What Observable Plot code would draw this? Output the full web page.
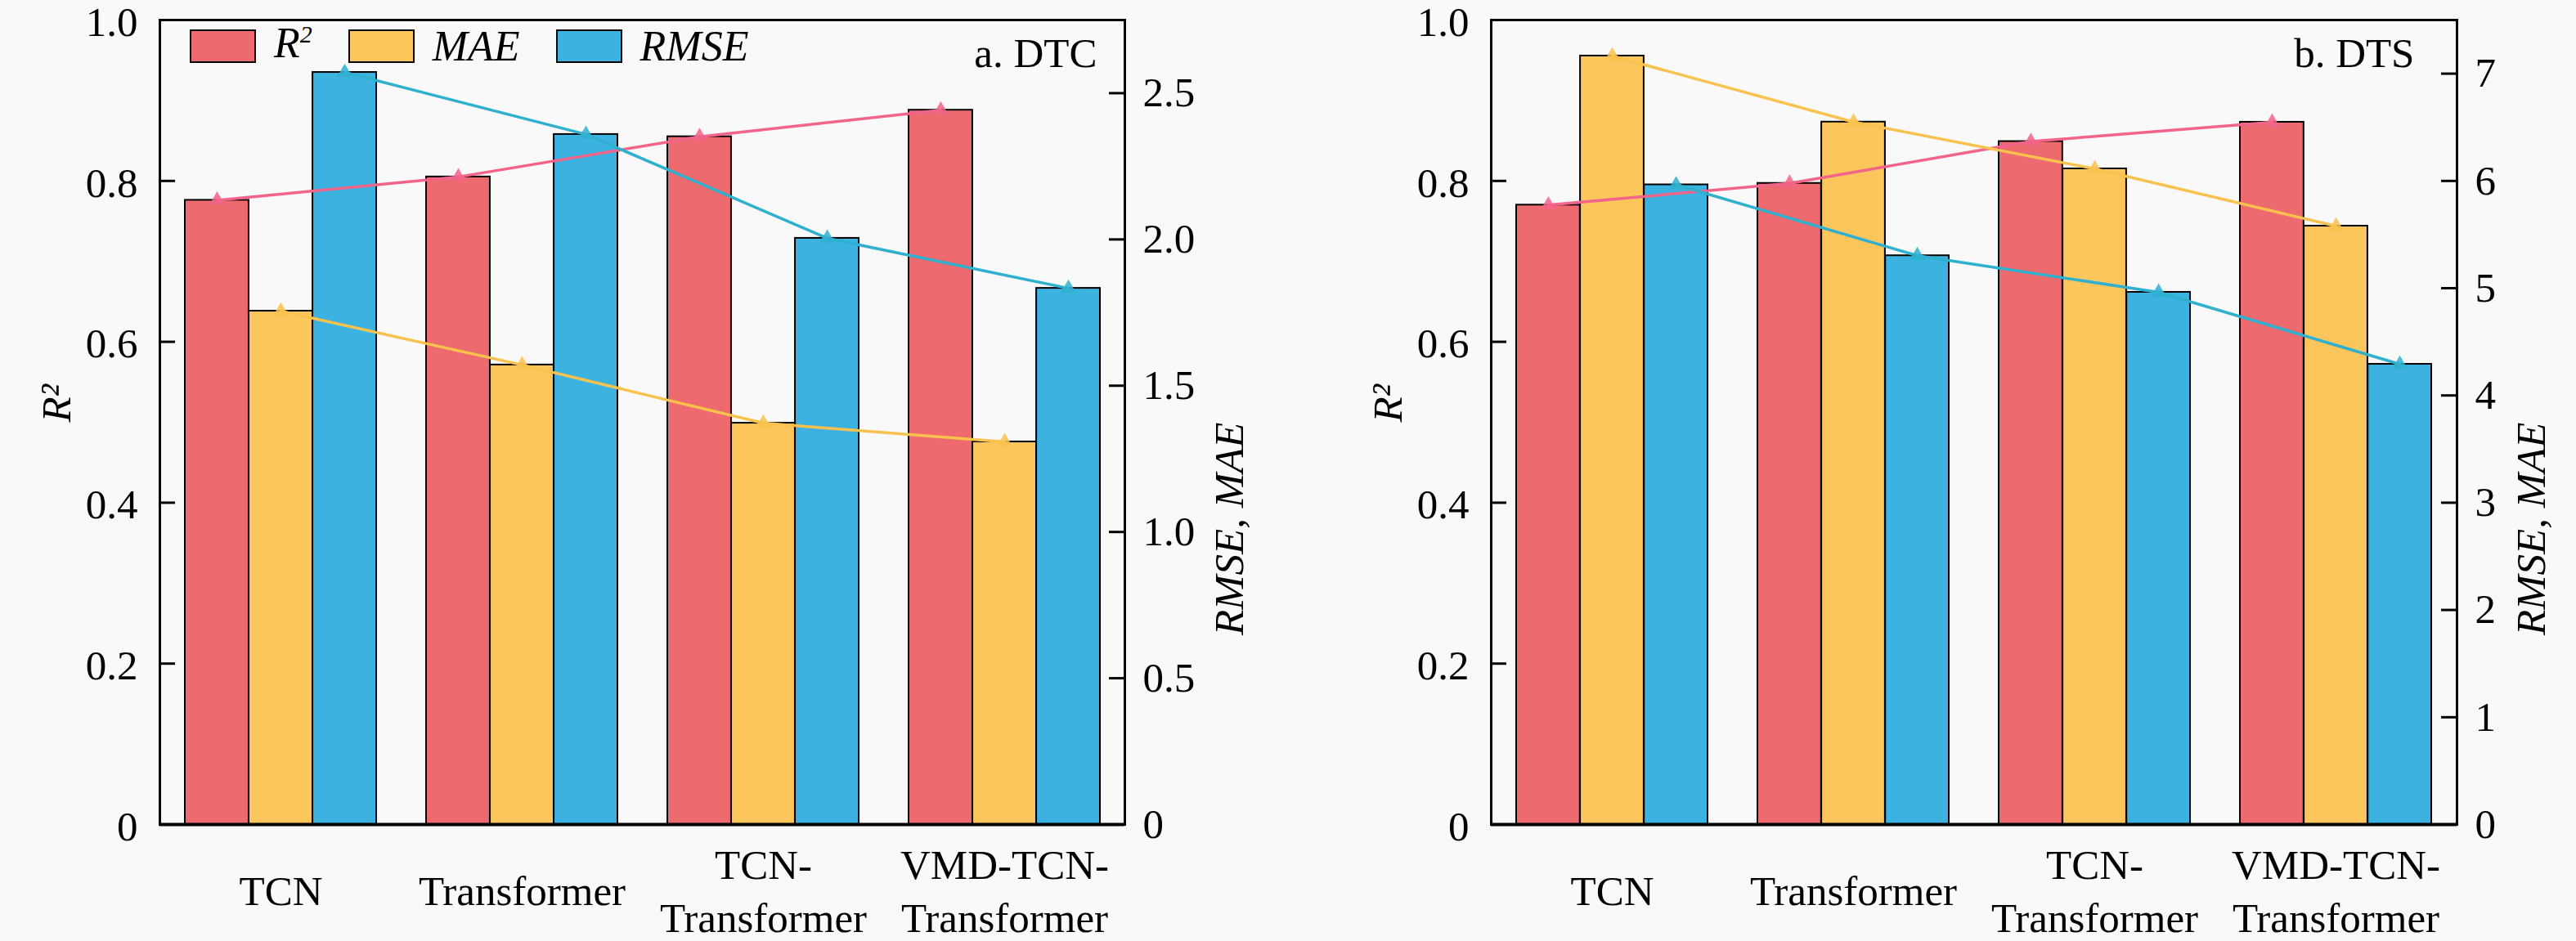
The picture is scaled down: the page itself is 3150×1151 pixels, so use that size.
<!DOCTYPE html>
<html>
<head>
<meta charset="utf-8">
<script src="https://cdn.jsdelivr.net/npm/d3@7"></script>
<script src="https://cdn.jsdelivr.net/npm/@observablehq/plot@0.6"></script>
<style>
  html, body { margin: 0; padding: 0; background: #f9f9f9; }
  #wrap { position: relative; width: 3150px; height: 1151px; background: #f9f9f9; overflow: hidden; }
  .panel { position: absolute; top: 0; }
  .legend { position: absolute; top: 33px; left: 232px; display: flex; align-items: center;
            font-family: 'Liberation Serif', 'Times New Roman', serif; font-size: 52px; font-style: italic; line-height: 40px; }
  .sw { width: 77px; height: 37px; border: 2px solid #000; margin-right: 22px; }
  .lab { margin-right: 44px; }
  .lab sup { font-size: 30px; vertical-align: 0; position: relative; top: -18px; }
</style>
</head>
<body>
<div id="wrap">
  <div class="panel" id="pa" style="left:0px"></div>
  <div class="panel" id="pb" style="left:1628px"></div>
  <div class="legend" id="legend"></div>
</div>
<script>
// ---- data ----
const models = ["TCN", "Transformer", "TCN-Transformer", "VMD-TCN-Transformer"];
const modelLabels = ["TCN", "Transformer", "TCN-\nTransformer", "VMD-TCN-\nTransformer"];
const metrics = ["R2", "MAE", "RMSE"];
const metricLabels = ["R²", "MAE", "RMSE"];

const r2A   = [0.776, 0.805, 0.855, 0.888];
const maeA  = [1.755, 1.571, 1.372, 1.308];
const rmseA = [2.571, 2.359, 2.004, 1.833];

const r2B   = [0.770, 0.797, 0.849, 0.873];
const maeB  = [7.165, 6.549, 6.113, 5.579];
const rmseB = [5.964, 5.303, 4.962, 4.291];

const leftTicks   = [0, 0.2, 0.4, 0.6, 0.8, 1.0];
const rightTicksA = [0, 0.5, 1.0, 1.5, 2.0, 2.5];
const rightTicksB = [0, 1, 2, 3, 4, 5, 6, 7];
const rightMaxA = 2.75;
const rightMaxB = 7.5;

// ---- style ----
const barColors  = {R2: "#ED6B6E", MAE: "#FDC65D", RMSE: "#3BB2DF"};
const lineColors = {R2: "#F2648A", MAE: "#F9C24E", RMSE: "#2FB0CF"};
const FONT = "'Liberation Serif', 'Times New Roman', serif";

function panel({r2, mae, rmse, rightTicks, rightMax, width, marginRight, title, titleDx, rightLabelDx, rightFmt}) {
  const height = 1151, marginLeft = 195, marginTop = 24, marginBottom = 143;
  const innerW = width - marginLeft - marginRight;
  const pIn = 0.207, pOut = 0.102;
  const step = innerW / (models.length - pIn + 2 * pOut);
  const third = step * (1 - pIn) / 3;

  const rows = [];
  models.forEach((m, i) => {
    rows.push({model: m, metric: "R2", value: r2[i], y: r2[i]});
    rows.push({model: m, metric: "MAE", value: mae[i], y: mae[i] / rightMax});
    rows.push({model: m, metric: "RMSE", value: rmse[i], y: rmse[i] / rightMax});
  });
  const sub = k => rows.filter(d => d.metric === k);
  const offs = {R2: -third, MAE: 0, RMSE: third};
  const insets = {R2: [0, 2 * third], MAE: [third, third], RMSE: [2 * third, 0]};

  const marks = [];
  for (const k of metrics) {
    marks.push(Plot.barY(sub(k), {x: "model", y: "y", fill: barColors[k], stroke: "#000", strokeWidth: 2,
      insetLeft: insets[k][0], insetRight: insets[k][1]}));
  }
  for (const k of metrics) {
    marks.push(Plot.line(sub(k), {x: "model", y: "y", dx: offs[k], stroke: lineColors[k], strokeWidth: 3.5}));
    marks.push(Plot.dot(sub(k), {x: "model", y: "y", dx: offs[k], symbol: "triangle", r: 7, fill: lineColors[k], fillOpacity: 0.85}));
  }
  marks.push(
    Plot.frame({stroke: "#000", strokeWidth: 3}),
    Plot.ruleY([0], {stroke: "#000", strokeWidth: 4}),
    // inward ticks
    Plot.tickY(leftTicks, {y: d => d, insetRight: innerW - 19, stroke: "#000", strokeWidth: 3}),
    Plot.tickY(rightTicks.map(t => t / rightMax), {y: d => d, insetLeft: innerW - 19, stroke: "#000", strokeWidth: 3}),
    Plot.axisY(leftTicks, {anchor: "left", tickSize: 0, tickPadding: 27, label: null, dy: 3,
      tickFormat: d => d === 0 ? "0" : d.toFixed(1)}),
    Plot.axisY(rightTicks.map(t => t / rightMax), {anchor: "right", tickSize: 0, tickPadding: 22, label: null,
      tickFormat: d => rightFmt(d * rightMax)}),
    Plot.axisX({tickSize: 0, tickPadding: 78, lineAnchor: "middle", lineHeight: 1.27, label: null,
      tickFormat: d => modelLabels[models.indexOf(d)]}),
    Plot.text(["R²"], {frameAnchor: "left", dx: -126, rotate: -90, fontStyle: "italic"}),
    Plot.text(["RMSE, MAE"], {frameAnchor: "right", dx: rightLabelDx, rotate: -90, fontStyle: "italic"}),
    Plot.text([title], {frameAnchor: "top-right", dx: titleDx, dy: 21, textAnchor: "end", lineAnchor: "top"})
  );

  return Plot.plot({
    width, height, marginLeft, marginRight, marginTop, marginBottom,
    x: {type: "band", domain: models, paddingInner: pIn, paddingOuter: pOut, label: null, axis: null},
    y: {domain: [0, 1], label: null, axis: null},
    style: {fontFamily: FONT, fontSize: "51px", background: "#f9f9f9", color: "#000", overflow: "visible"},
    marks
  });
}

document.getElementById("pa").append(panel({
  r2: r2A, mae: maeA, rmse: rmseA, rightTicks: rightTicksA, rightMax: rightMaxA,
  width: 1628, marginRight: 253, title: "a. DTC", titleDx: -34, rightLabelDx: 128,
  rightFmt: v => v < 1e-9 ? "0" : v.toFixed(1)
}));
document.getElementById("pb").append(panel({
  r2: r2B, mae: maeB, rmse: rmseB, rightTicks: rightTicksB, rightMax: rightMaxB,
  width: 1522, marginRight: 146, title: "b. DTS", titleDx: -52, rightLabelDx: 91,
  rightFmt: v => String(Math.round(v))
}));

// legend
const lg = document.getElementById("legend");
metrics.forEach((k, i) => {
  const sw = document.createElement("div");
  sw.className = "sw";
  sw.style.background = barColors[k];
  const lab = document.createElement("div");
  lab.className = "lab";
  if (k === "R2") { lab.innerHTML = "R<sup>2</sup>"; } else { lab.textContent = metricLabels[i]; }
  lg.append(sw, lab);
});
</script>
</body>
</html>
